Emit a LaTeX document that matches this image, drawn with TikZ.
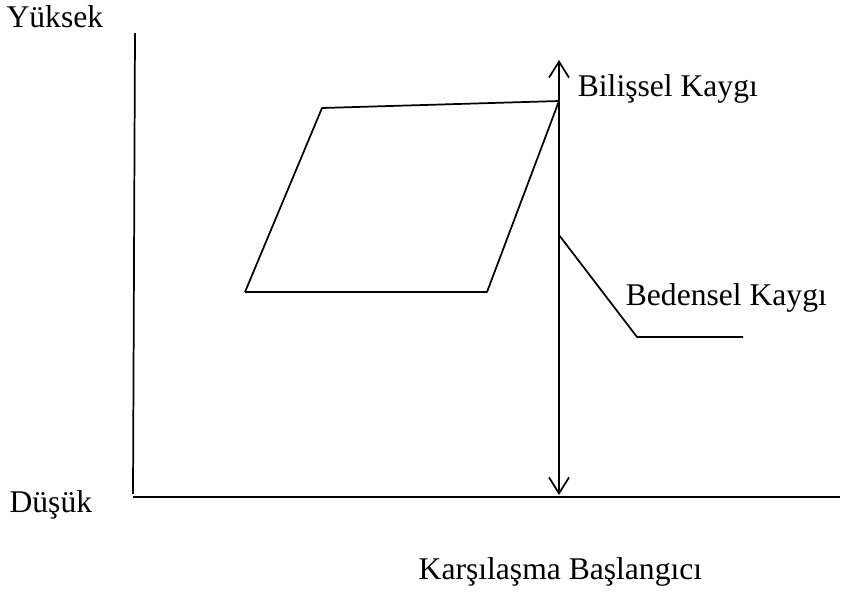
\documentclass[tikz,border=0pt]{standalone}
\usepackage{fontspec}
\setmainfont{Liberation Serif}
\usetikzlibrary{arrows.meta}

\begin{document}
\begin{tikzpicture}[x=0.75pt,y=-0.75pt,line width=1.3pt,>={Straight Barb[length=12pt,width=15pt]},lbl/.style={font=\fontsize{23.7}{28}\selectfont,inner sep=0pt}]
\useasboundingbox (0,0) rectangle (845,594);
% axes
\coordinate (ax_top) at (135,33);
\coordinate (ax_org) at (133,494);
\coordinate (ax_end) at (840,497);
\draw (ax_top)--(ax_org);
\draw (133,497)--(ax_end);
\node[lbl,anchor=base east] (lbl_hi) at (104,27) {Yüksek};
\node[lbl,anchor=base east] (lbl_lo) at (93,512) {Düşük};
\node[lbl,anchor=base east] (lbl_x) at (703,579) {Karşılaşma Başlangıcı};
% double arrow
\coordinate (ar_top) at (559,60);
\coordinate (ar_bot) at (559,495);
\draw[<->] (ar_top)--(ar_bot);
% cognitive anxiety
\coordinate (c1) at (322,108);
\coordinate (c2) at (559,101);
\coordinate (c3) at (487,292);
\coordinate (c4) at (245,292);
\draw[line join=round] (c4)--(c1)--(c2)--(c3)--(c4);
\node[lbl,anchor=base west] (lbl_cog) at (577,96) {Bilişsel Kaygı};
% somatic anxiety
\coordinate (s1) at (559,235);
\coordinate (s2) at (637,337);
\coordinate (s3) at (743,337);
\draw[line join=round] (s1)--(s2)--(s3);
\node[lbl,anchor=base west] (lbl_som) at (625,305) {Bedensel Kaygı};
\end{tikzpicture}
\end{document}
